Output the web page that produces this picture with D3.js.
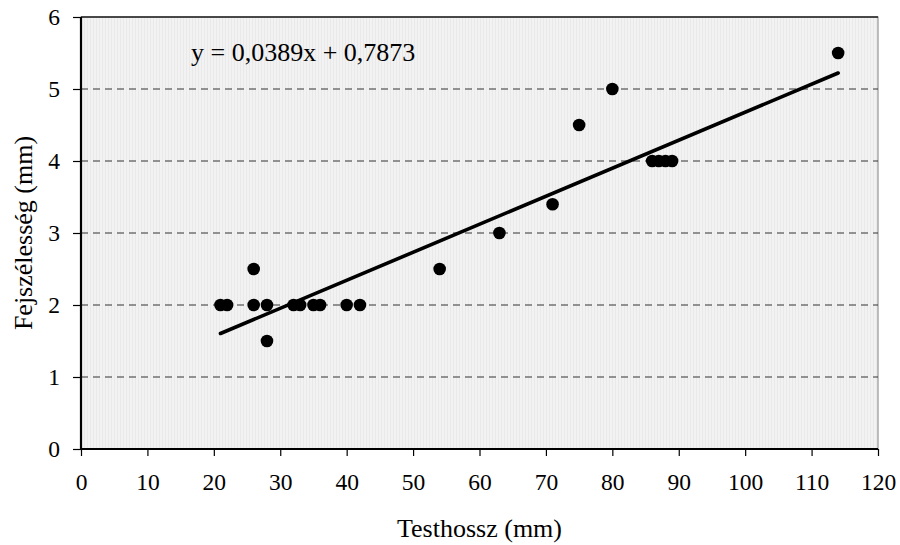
<!DOCTYPE html>
<html>
<head>
<meta charset="utf-8">
<script src="https://cdn.jsdelivr.net/npm/d3@7"></script>
<style>
  body { margin: 0; background: #fff; }
  svg text { font-family: "Liberation Serif", "Times New Roman", serif; fill: #000; }
</style>
</head>
<body>
<svg id="chart"></svg>
<script>
// measured values
var testhossz = [21, 22, 26, 26, 28, 28, 32, 33, 35, 36, 40, 42, 54, 63, 71, 75, 80, 86, 87, 88, 89, 114];
var fejszelesseg = [2, 2, 2.5, 2, 2, 1.5, 2, 2, 2, 2, 2, 2, 2.5, 3, 3.4, 4.5, 5, 4, 4, 4, 4, 5.5];
var xTicks = [0, 10, 20, 30, 40, 50, 60, 70, 80, 90, 100, 110, 120];
var yTicks = [0, 1, 2, 3, 4, 5, 6];
var slope = 0.0389, intercept = 0.7873;
var trendX = [21, 114];

var W = 900, H = 545;
var margin = { top: 17, right: 22, bottom: 96, left: 81 };
var width = W - margin.left - margin.right;
var height = H - margin.top - margin.bottom;

var svg = d3.select("#chart").attr("width", W).attr("height", H);

// striped grey background of the plot area
var defs = svg.append("defs");
var pat = defs.append("pattern")
    .attr("id", "stripes")
    .attr("patternUnits", "userSpaceOnUse")
    .attr("width", 3).attr("height", 3);
pat.append("rect").attr("width", 3).attr("height", 3).attr("fill", "#f2f2f2");
pat.append("rect").attr("width", 1).attr("height", 3).attr("fill", "#e9e9e9");

var g = svg.append("g")
    .attr("transform", "translate(" + margin.left + "," + margin.top + ")");

var x = d3.scaleLinear().domain([0, 120]).range([0, width]);
var y = d3.scaleLinear().domain([0, 6]).range([height, 0]);

g.append("rect")
    .attr("width", width)
    .attr("height", height)
    .attr("fill", "url(#stripes)")
    .attr("stroke", "#808080")
    .attr("stroke-width", 1);

// dashed gridlines
g.selectAll("line.grid")
    .data(yTicks.filter(function(d) { return d > 0 && d < 6; }))
  .enter().append("line")
    .attr("class", "grid")
    .attr("x1", 0).attr("x2", width)
    .attr("y1", function(d) { return y(d); })
    .attr("y2", function(d) { return y(d); })
    .attr("stroke", "#333")
    .attr("stroke-width", 1)
    .attr("stroke-dasharray", "7,5");

// top border
g.append("line")
    .attr("x1", 0).attr("x2", width)
    .attr("y1", 0).attr("y2", 0)
    .attr("stroke", "#222").attr("stroke-width", 1.5);

// axes
var xAxis = g.append("g")
    .attr("transform", "translate(0," + height + ")")
    .call(d3.axisBottom(x).tickValues(xTicks).tickFormat(d3.format("d"))
      .tickSize(7).tickPadding(17));
var yAxis = g.append("g")
    .call(d3.axisLeft(y).tickValues(yTicks).tickFormat(d3.format("d"))
      .tickSize(8).tickPadding(13));

[xAxis, yAxis].forEach(function(a) {
  a.attr("font-family", null).attr("font-size", null);
  a.select(".domain").attr("stroke", "#000").attr("stroke-width", 2.2);
  a.selectAll(".tick line").attr("stroke", "#000").attr("stroke-width", 1.2);
  a.selectAll(".tick text")
      .style("font-family", "'Liberation Serif', serif")
      .style("font-size", "23.5px")
      .attr("fill", "#000");
});
xAxis.select(".domain").attr("d", "M0,0H" + width);
yAxis.select(".domain").attr("d", "M0,0V" + height);

// trend line
g.append("line")
    .attr("x1", x(trendX[0]))
    .attr("y1", y(slope * trendX[0] + intercept))
    .attr("x2", x(trendX[1]))
    .attr("y2", y(slope * trendX[1] + intercept))
    .attr("stroke", "#000")
    .attr("stroke-width", 3.6)
    .attr("stroke-linecap", "round");

// points
g.selectAll("circle.pt")
    .data(testhossz)
  .enter().append("circle")
    .attr("class", "pt")
    .attr("cx", function(d) { return x(d); })
    .attr("cy", function(d, i) { return y(fejszelesseg[i]); })
    .attr("r", 6.3)
    .attr("fill", "#000");

// equation label
g.append("text")
    .attr("x", 110)
    .attr("y", 44)
    .style("font-size", "26px")
    .text("y = 0,0389x + 0,7873");

// axis titles
svg.append("text")
    .attr("x", margin.left + width / 2)
    .attr("y", 537)
    .attr("text-anchor", "middle")
    .style("font-size", "26px")
    .text("Testhossz (mm)");

svg.append("text")
    .attr("transform", "translate(32," + (margin.top + height / 2) + ") rotate(-90)")
    .attr("text-anchor", "middle")
    .style("font-size", "26px")
    .text("Fejszélesség (mm)");
</script>
</body>
</html>
